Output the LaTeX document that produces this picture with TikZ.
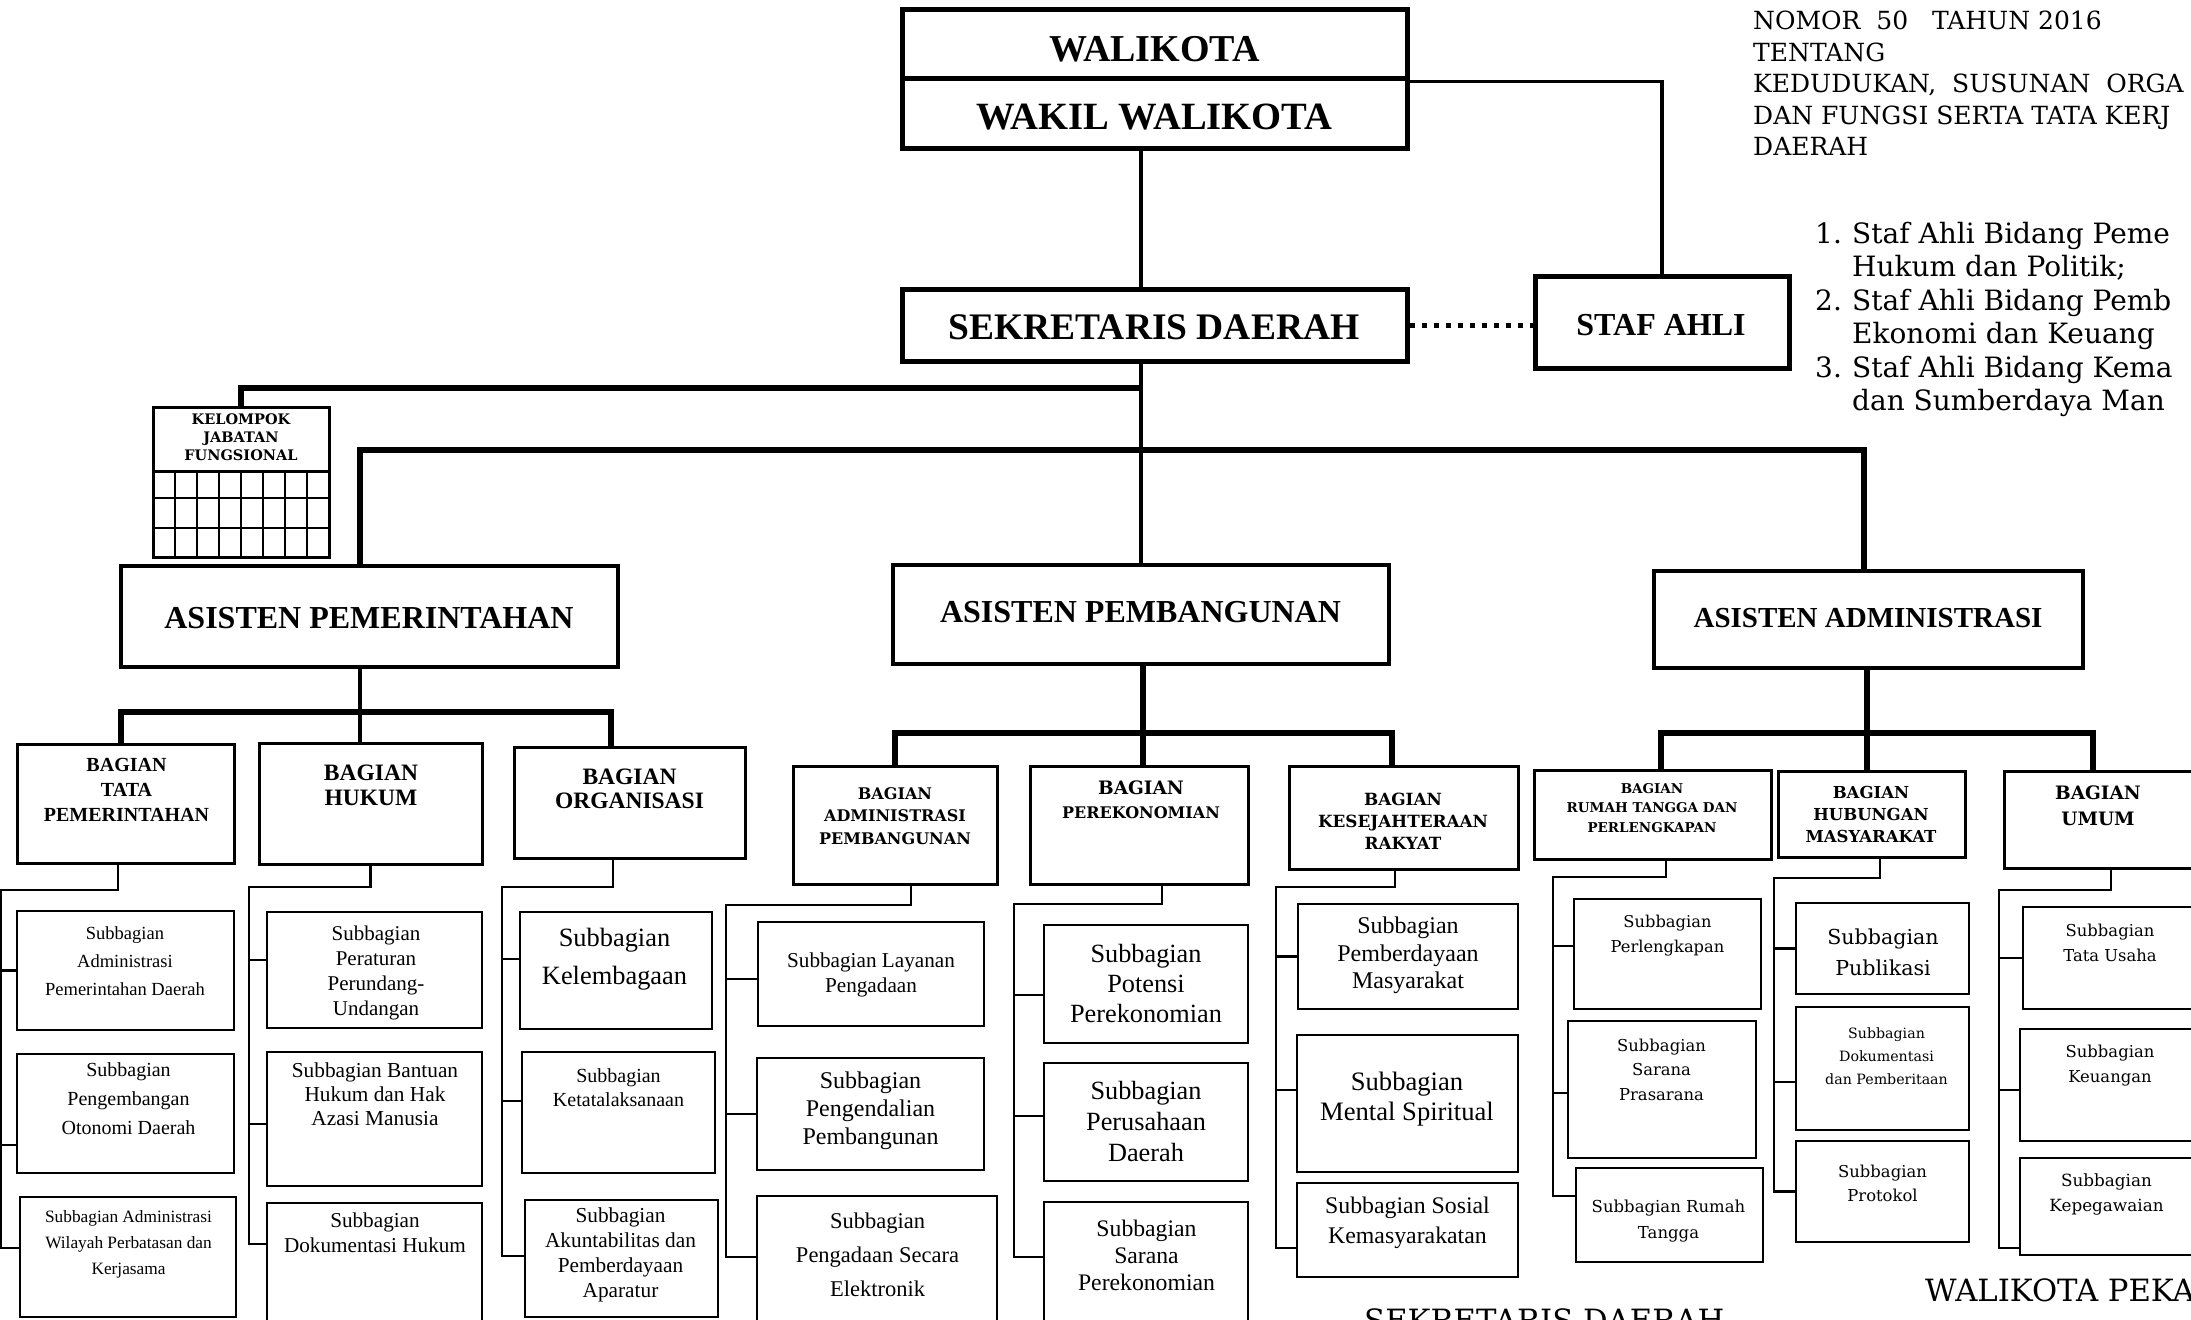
\documentclass[tikz,border=0pt]{standalone}
\usepackage{fontspec}
\setmainfont{Liberation Serif}
\newfontfamily\bkm{DejaVu Serif}
\usetikzlibrary{fit,positioning}
\newcommand{\fsz}[2]{\fontsize{#1}{#2}\selectfont}

\begin{document}
\begin{tikzpicture}[x=1pt, y=-1pt,
        top box/.style={draw, line width=5pt, inner sep=0pt},
        asis box/.style={draw, line width=4pt, inner sep=0pt},
        bag box/.style={draw, line width=3pt, inner sep=0pt},
        sub box/.style={draw, line width=2.5pt, inner sep=0pt},
        lbl/.style={align=center, inner sep=0pt},
        link/.style={line width=3.5pt},
        bar/.style={line width=6pt},
        spine/.style={line width=2.5pt},
        dots/.style={line width=5pt, dash pattern=on 5pt off 7pt}]
    \useasboundingbox (0,0) rectangle (2191,1319);
    \clip (0,0) rectangle (2191,1319);

    % pimpinan
    \node[top box, fit={(902,10) (1407,79)}] (wk) {};
    \node[top box, fit={(902,79) (1407,148)}] (wwk) {};
    \node[top box, fit={(902,289) (1407,361)}] (sekda) {};
    \node[top box, fit={(1535,276) (1789,368)}] (staf) {};
    \node[lbl, font=\bfseries\fsz{38}{40}] (wkT) at (1154.5,49) {WALIKOTA};
    \node[lbl, font=\bfseries\fsz{38.6}{40}] (wwkT) at (1154.5,117.5) {WAKIL WALIKOTA};
    \node[lbl, font=\bfseries\fsz{37.5}{40}] (sekdaT) at (1154,327) {SEKRETARIS DAERAH};
    \node[lbl, font=\bfseries\fsz{32}{34}] (stafT) at (1661,325) {STAF AHLI};

    % kelompok jabatan fungsional
    \node[bag box, fit={(153,407) (329,557)}] (kjf) {};
    \node[lbl, font=\bkm\bfseries\fsz{14.5}{18}] (kjfT) at (241,437) {KELOMPOK\\JABATAN\\FUNGSIONAL};
    \draw[line width=3pt] (153,471) -- (329,471);
    \foreach \gy in {498,528} \draw[line width=2.5pt] (153,\gy) -- (329,\gy);
    \foreach \gx in {175,197,...,307} \draw[line width=2.5pt] (\gx,471) -- (\gx,557);

    % asisten
    \node[asis box, fit={(121,566) (618,667)}] (aPem) {};
    \node[asis box, fit={(893,565) (1389,664)}] (aPbg) {};
    \node[asis box, fit={(1654,571) (2083,668)}] (aAdm) {};
    \node[lbl, font=\bfseries\fsz{32}{34}] (aPemT) at (369,618) {ASISTEN PEMERINTAHAN};
    \node[lbl, font=\bfseries\fsz{32}{34}] (aPbgT) at (1140.5,612) {ASISTEN PEMBANGUNAN};
    \node[lbl, font=\bfseries\fsz{29}{31}] (aAdmT) at (1868,618) {ASISTEN ADMINISTRASI};

    % bagian
    \node[bag box, fit={(17,744) (234,863)}] (bTata) {};
    \node[bag box, fit={(259,743) (482,864)}] (bHukum) {};
    \node[bag box, fit={(514,747) (745,858)}] (bOrg) {};
    \node[bag box, fit={(793,766) (997,884)}] (bAdmP) {};
    \node[bag box, fit={(1030,766) (1248,884)}] (bEko) {};
    \node[bag box, fit={(1289,766) (1518,869)}] (bKesra) {};
    \node[bag box, fit={(1534,770) (1771,859)}] (bRT) {};
    \node[bag box, fit={(1778,771) (1965,857)}] (bHumas) {};
    \node[bag box, fit={(2004,771) (2218,868)}] (bUmum) {};
    \node[lbl, font=\bfseries\fsz{20}{25}] (bTataT) at (126.5,790) {BAGIAN\\TATA\\PEMERINTAHAN};
    \node[lbl, font=\bfseries\fsz{23.5}{25}] (bHukumT) at (371,785.5) {BAGIAN\\HUKUM};
    \node[lbl, font=\bfseries\fsz{23.5}{24}] (bOrgT) at (629.5,788.5) {BAGIAN\\ORGANISASI};
    \node[lbl, font=\bkm\bfseries\fsz{16}{22.5}] (bAdmPT) at (895,816) {BAGIAN\\ADMINISTRASI\\PEMBANGUNAN};
    \node[lbl, font=\bkm\bfseries\fsz{16}{24}] (bEkoT) at (1141,800) {{\fsz{18.5}{24}BAGIAN}\\PEREKONOMIAN};
    \node[lbl, font=\bkm\bfseries\fsz{16.8}{22}] (bKesraT) at (1403,821) {BAGIAN\\KESEJAHTERAAN\\RAKYAT};
    \node[lbl, font=\bkm\bfseries\fsz{13.5}{19.5}] (bRTT) at (1652,808) {BAGIAN\\RUMAH TANGGA DAN\\PERLENGKAPAN};
    \node[lbl, font=\bkm\bfseries\fsz{16.5}{22}] (bHumasT) at (1871,814) {BAGIAN\\HUBUNGAN\\MASYARAKAT};
    \node[lbl, font=\bkm\bfseries\fsz{18.5}{26}] (bUmumT) at (2098,806) {BAGIAN\\UMUM};

    % subbagian
    \node[sub box, fit={(17,911) (234,1030)}] (s11) {};
    \node[sub box, fit={(17,1054) (234,1173)}] (s12) {};
    \node[sub box, fit={(20,1197) (236,1317)}] (s13) {};
    \node[sub box, fit={(267,912) (482,1028)}] (s21) {};
    \node[sub box, fit={(267,1052) (482,1186)}] (s22) {};
    \node[sub box, fit={(267,1203) (482,1330)}] (s23) {};
    \node[sub box, fit={(520,912) (712,1029)}] (s31) {};
    \node[sub box, fit={(522,1052) (715,1173)}] (s32) {};
    \node[sub box, fit={(525,1200) (718,1317)}] (s33) {};
    \node[sub box, fit={(758,922) (984,1026)}] (s41) {};
    \node[sub box, fit={(757,1058) (984,1170)}] (s42) {};
    \node[sub box, fit={(757,1196) (997,1330)}] (s43) {};
    \node[sub box, fit={(1044,925) (1248,1043)}] (s51) {};
    \node[sub box, fit={(1044,1063) (1248,1181)}] (s52) {};
    \node[sub box, fit={(1044,1202) (1248,1330)}] (s53) {};
    \node[sub box, fit={(1298,904) (1518,1009)}] (s61) {};
    \node[sub box, fit={(1297,1035) (1518,1172)}] (s62) {};
    \node[sub box, fit={(1297,1183) (1518,1277)}] (s63) {};
    \node[sub box, fit={(1574,899) (1761,1009)}] (s71) {};
    \node[sub box, fit={(1568,1021) (1756,1158)}] (s72) {};
    \node[sub box, fit={(1576,1168) (1763,1262)}] (s73) {};
    \node[sub box, fit={(1796,903) (1969,994)}] (s81) {};
    \node[sub box, fit={(1796,1007) (1969,1130)}] (s82) {};
    \node[sub box, fit={(1796,1141) (1969,1242)}] (s83) {};
    \node[sub box, fit={(2023,907) (2230,1009)}] (s91) {};
    \node[sub box, fit={(2020,1029) (2230,1141)}] (s92) {};
    \node[sub box, fit={(2020,1158) (2230,1255)}] (s93) {};

    \node[lbl, font=\fsz{18.5}{28}] (s11T) at (125,961) {Subbagian\\Administrasi\\Pemerintahan Daerah};
    \node[lbl, font=\fsz{20}{29}] (s12T) at (128.5,1099) {Subbagian\\Pengembangan\\Otonomi Daerah};
    \node[lbl, font=\fsz{17.3}{26}] (s13T) at (128.5,1244) {Subbagian Administrasi\\Wilayah Perbatasan dan\\Kerjasama};
    \node[lbl, font=\fsz{21}{25}] (s21T) at (376,973) {Subbagian\\Peraturan\\Perundang-\\Undangan};
    \node[lbl, font=\fsz{21.3}{24}] (s22T) at (375,1094) {Subbagian Bantuan\\Hukum dan Hak\\Azasi Manusia};
    \node[lbl, font=\fsz{21.2}{25}] (s23T) at (375,1232.5) {Subbagian\\Dokumentasi Hukum};
    \node[lbl, font=\fsz{26.4}{38}] (s31T) at (614.5,959) {Subbagian\\Kelembagaan};
    \node[lbl, font=\fsz{20}{24}] (s32T) at (618.5,1088) {Subbagian\\Ketatalaksanaan};
    \node[lbl, font=\fsz{21.3}{25}] (s33T) at (620.5,1254.5) {Subbagian\\Akuntabilitas dan\\Pemberdayaan\\Aparatur};
    \node[lbl, font=\fsz{21.2}{25}] (s41T) at (871,974.5) {Subbagian Layanan\\Pengadaan};
    \node[lbl, font=\fsz{24}{28}] (s42T) at (870.5,1111) {Subbagian\\Pengendalian\\Pembangunan};
    \node[lbl, font=\fsz{22.5}{34}] (s43T) at (877.5,1254.5) {Subbagian\\Pengadaan Secara\\Elektronik};
    \node[lbl, font=\fsz{26.3}{30}] (s51T) at (1146,983) {Subbagian\\Potensi\\Perekonomian};
    \node[lbl, font=\fsz{26.3}{31}] (s52T) at (1146,1121) {Subbagian\\Perusahaan\\Daerah};
    \node[lbl, font=\fsz{23.7}{27}] (s53T) at (1146.5,1255) {Subbagian\\Sarana\\Perekonomian};
    \node[lbl, font=\fsz{24}{27.5}] (s61T) at (1408,955.5) {Subbagian\\Pemberdayaan\\Masyarakat};
    \node[lbl, font=\fsz{26.6}{30}] (s62T) at (1407,1099) {Subbagian\\Mental Spiritual};
    \node[lbl, font=\fsz{23.8}{30}] (s63T) at (1407.5,1223) {Subbagian Sosial\\Kemasyarakatan};
    \node[lbl, font=\bkm\fsz{16.3}{25}] (s71T) at (1667.5,935.5) {Subbagian\\Perlengkapan};
    \node[lbl, font=\bkm\fsz{16.4}{24.5}] (s72T) at (1661.5,1069.5) {Subbagian\\Sarana\\Prasarana};
    \node[lbl, font=\bkm\fsz{16.5}{26}] (s73T) at (1668.5,1221) {Subbagian Rumah\\Tangga};
    \node[lbl, font=\bkm\fsz{20.6}{31}] (s81T) at (1883,952.5) {Subbagian\\Publikasi};
    \node[lbl, font=\bkm\fsz{14.2}{23}] (s82T) at (1886.5,1056) {Subbagian\\Dokumentasi\\dan Pemberitaan};
    \node[lbl, font=\bkm\fsz{16.4}{24}] (s83T) at (1882.5,1183) {Subbagian\\Protokol};
    \node[lbl, font=\bkm\fsz{16.4}{25}] (s91T) at (2110,942.5) {Subbagian\\Tata Usaha};
    \node[lbl, font=\bkm\fsz{16.4}{25}] (s92T) at (2110,1065.5) {Subbagian\\Keuangan};
    \node[lbl, font=\bkm\fsz{16.8}{25}] (s93T) at (2106.5,1194.5) {Subbagian\\Kepegawaian};

    % keterangan
    \node[lbl, align=left, anchor=north west, font=\bkm\fsz{25}{31.5}] (perda) at (1753,11)
        {NOMOR\ \ 50\ \ \ TAHUN 2016\\TENTANG\\KEDUDUKAN,\ \ SUSUNAN\ \ ORGA\\DAN FUNGSI SERTA TATA KERJ\\DAERAH};
    \node[lbl, align=left, anchor=north west, font=\bkm\fsz{28}{33.5}] (stafL) at (1815,222)
        {\makebox[37pt][l]{1.}Staf Ahli Bidang Peme\\\hspace*{37pt}Hukum dan Politik;\\
         \makebox[37pt][l]{2.}Staf Ahli Bidang Pemb\\\hspace*{37pt}Ekonomi dan Keuang\\
         \makebox[37pt][l]{3.}Staf Ahli Bidang Kema\\\hspace*{37pt}dan Sumberdaya Man};
    \node[lbl, anchor=north west, font=\bkm\fsz{30.7}{33}] (sdT) at (1364,1308) {SEKRETARIS DAERAH};
    \node[lbl, anchor=north west, font=\bkm\fsz{30.7}{33}] (wkpT) at (1925,1278) {WALIKOTA PEKA};

    % garis komando
    \coordinate (jS) at (1141,388);
    \coordinate (jT) at (1141,450);
    \draw[link] (wwk.south -| jS) -- (sekda.north -| jS);
    \draw[link] (wk.south east) -| (staf.north);
    \draw[dots] (sekda.east) -- (sekda.east -| staf.west);
    \draw[link] (sekda.south -| jS) -- (aPbg.north -| jS);
    \draw[bar] (jS) -| (kjf.north);
    \draw[bar] ([xshift=-9.5pt]aPem.north) |- (jT) -| ([xshift=-4.5pt]aAdm.north);

    \coordinate (jP) at (360,712);
    \draw[bar] ([xshift=-4.5pt]bTata.north) |- (jP) -| ([xshift=-18.5pt]bOrg.north);
    \draw[link] (aPem.south -| jP) -- (jP |- bHukum.north);
    \coordinate (jB) at (1143,733);
    \draw[bar] (bAdmP.north) |- (jB) -| ([xshift=-11.5pt]bKesra.north);
    \draw[bar] (aPbg.south -| jB) -- (jB |- bEko.north);
    \coordinate (jA) at (1867,733);
    \draw[bar] ([xshift=8.5pt]bRT.north) |- (jA) -| ([xshift=-18pt]bUmum.north);
    \draw[bar] (aAdm.south -| jA) -- (jA |- bHumas.north);

    % bagian ke subbagian
    \coordinate (sp1) at (1,890);
    \coordinate (sp2) at (249,887);
    \coordinate (sp3) at (502,887);
    \coordinate (sp4) at (726,905);
    \coordinate (sp5) at (1014,904);
    \coordinate (sp6) at (1276,887);
    \coordinate (sp7) at (1553,877);
    \coordinate (sp8) at (1774,878);
    \coordinate (sp9) at (1999,890);
    \draw[spine] ([xshift=-7.5pt]bTata.south) |- (sp1) |- (s11.west)
        (sp1) |- ([yshift=-31.5pt]s12.west) (sp1) |- ([yshift=9pt]s13.west);
    \draw[spine] (bHukum.south) |- (sp2) |- ([yshift=10pt]s21.west)
        (sp2) |- ([yshift=-5pt]s22.west) (sp2) |- ([yshift=22.5pt]s23.west);
    \draw[spine] ([xshift=-16.5pt]bOrg.south) |- (sp3) |- ([yshift=11.5pt]s31.west)
        (sp3) |- ([yshift=11.5pt]s32.west) (sp3) |- ([yshift=2.5pt]s33.west);
    \draw[spine] ([xshift=16pt]bAdmP.south) |- (sp4) |- ([yshift=-5pt]s41.west)
        (sp4) |- (s42.west) (sp4) |- ([yshift=6pt]s43.west);
    \draw[spine] ([xshift=23pt]bEko.south) |- (sp5) |- ([yshift=-11pt]s51.west)
        (sp5) |- ([yshift=6pt]s52.west) (sp5) |- ([yshift=9pt]s53.west);
    \draw[spine] ([xshift=-8.5pt]bKesra.south) |- (sp6) |- (s61.west)
        (sp6) |- ([yshift=13.5pt]s62.west) (sp6) |- ([yshift=-18pt]s63.west);
    \draw[spine] ([xshift=13.5pt]bRT.south) |- (sp7) |- ([yshift=8pt]s71.west)
        (sp7) |- ([yshift=-3.5pt]s72.west) (sp7) |- ([yshift=19pt]s73.west);
    \draw[spine] ([xshift=8.5pt]bHumas.south) |- (sp8) |- (s81.west)
        (sp8) |- ([yshift=-13.5pt]s82.west) (sp8) |- (s83.west);
    \draw[spine] (bUmum.south) |- (sp9) |- (s91.west)
        (sp9) |- ([yshift=-5pt]s92.west) (sp9) |- ([yshift=-41.5pt]s93.west);
\end{tikzpicture}
\end{document}
